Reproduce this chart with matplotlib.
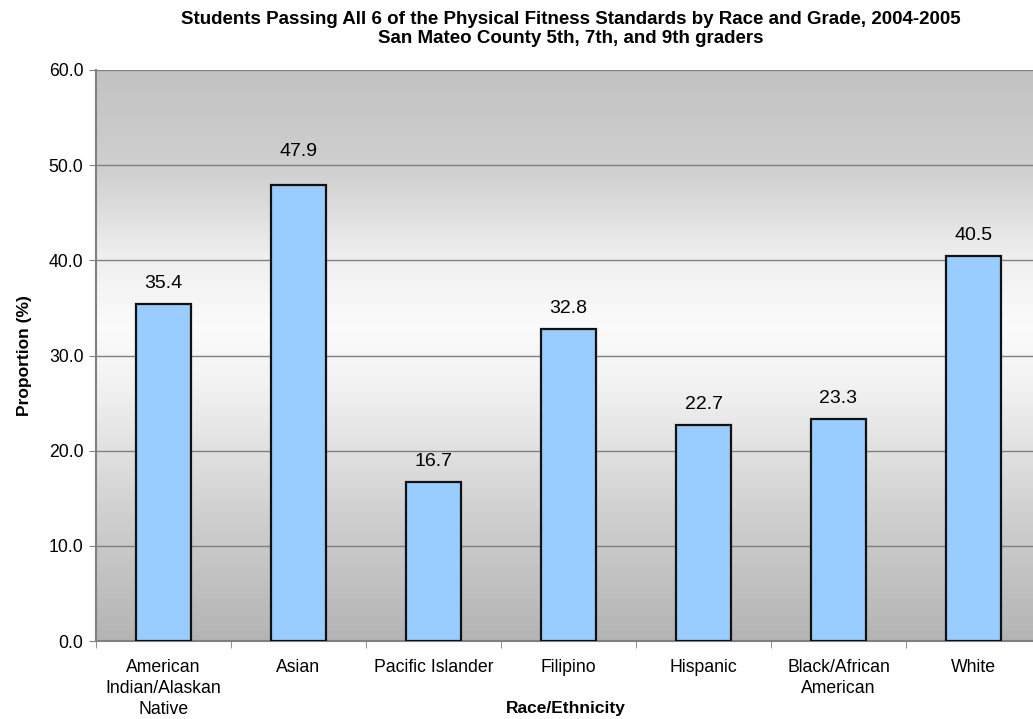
import matplotlib
matplotlib.use("Agg")
import matplotlib.pyplot as plt
import numpy as np
from matplotlib.colors import LinearSegmentedColormap

plt.rcParams['font.family'] = ['Liberation Sans', 'DejaVu Sans']

categories = ['American\nIndian/Alaskan\nNative', 'Asian', 'Pacific Islander',
              'Filipino', 'Hispanic', 'Black/African\nAmerican', 'White']
values = [35.4, 47.9, 16.7, 32.8, 22.7, 23.3, 40.5]
yticks = [0, 10, 20, 30, 40, 50, 60]

title = ('Students Passing All 6 of the Physical Fitness Standards by Race and Grade, 2004-2005\n'
         'San Mateo County 5th, 7th, and 9th graders')

fig = plt.figure(figsize=(10.33, 7.19), dpi=100)
ax = fig.add_axes([96 / 1033, 78 / 719, 945 / 1033, 571 / 719])

x = np.arange(len(categories))
ax.set_xlim(-0.5, len(categories) - 0.5)
ax.set_ylim(0, 60)

# gray-white-gray background fill for the plot area
bg = LinearSegmentedColormap.from_list(
    'bg', [(0.0, '#b4b4b4'), (0.2, '#cdcdcd'), (0.45, '#f2f2f2'), (0.55, '#fbfbfb'),
           (0.68, '#eeeeee'), (0.82, '#d0d0d0'), (1.0, '#c2c2c2')])
grad = np.linspace(0, 1, 256).reshape(-1, 1)
ax.imshow(grad, cmap=bg, aspect='auto', origin='lower',
          extent=(-0.5, len(categories) - 0.5, 0, 60), zorder=0)

ax.set_yticks(yticks)
ax.set_yticklabels([f'{t:.1f}' for t in yticks], fontsize=12.7)
ax.yaxis.grid(True, color='#808080', linewidth=1.0, zorder=1)
ax.set_axisbelow(True)

bars = ax.bar(x, values, width=0.41, color='#99ccff', edgecolor='#111111',
              linewidth=1.6, zorder=3)
for xi, v, cat in zip(x, values, categories):
    # the Asian label sits a little higher, clear of the 50.0 gridline
    pad = 2.6 if cat == 'Asian' else 1.25
    ax.text(xi, v + pad, f'{v:.1f}', ha='center', va='bottom', fontsize=14, zorder=4)

ax.set_xticks(x)
ax.set_xticklabels(categories, fontsize=12.7, linespacing=1.3)
ax.set_xticks(np.arange(len(categories) + 1) - 0.5, minor=True)
ax.tick_params(axis='x', which='major', length=0, pad=13)
ax.tick_params(axis='x', which='minor', length=5, color='#808080')
ax.tick_params(axis='y', length=5, color='#808080', pad=4)

for side in ['top', 'right']:
    ax.spines[side].set_visible(False)
for side in ['left', 'bottom']:
    ax.spines[side].set_color('#808080')
    ax.spines[side].set_linewidth(1.5)

ax.set_ylabel('Proportion (%)', fontsize=12.5, fontweight='bold', labelpad=12)
fig.text(566 / 1033, 1 - 709 / 719, 'Race/Ethnicity', ha='center', va='center',
         fontsize=12.5, fontweight='bold')
fig.text(571 / 1033, 1 - 29 / 719, title, ha='center', va='center',
         fontsize=13.5, fontweight='bold', linespacing=1.1)

fig.savefig('out.png', dpi=100)
